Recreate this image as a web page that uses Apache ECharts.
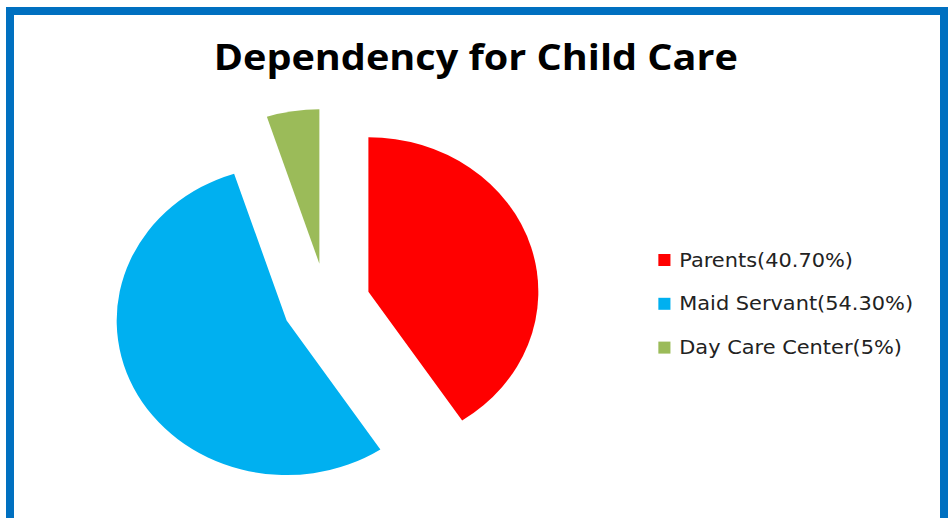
<!DOCTYPE html>
<html>
<head>
<meta charset="utf-8">
<script src="https://cdn.jsdelivr.net/npm/echarts@6/dist/echarts.min.js"></script>
<style>
  html, body { margin: 0; padding: 0; background: #ffffff; width: 951px; height: 518px; overflow: hidden; }
  #frame { position: absolute; left: 6px; top: 7px; width: 926px; height: 600px; border: 8px solid #0070C0; box-sizing: content-box; }
  #chart { position: absolute; left: 0; top: 0; width: 865px; height: 518px; transform: scaleX(1.1); transform-origin: 0 0; }
</style>
</head>
<body>
<div id="frame"></div>
<div id="chart"></div>
<script>
const titleText = 'Dependency for Child Care';
const categories = ['Parents(40.70%)', 'Maid Servant(54.30%)', 'Day Care Center(5%)'];
const values = [40.7, 54.3, 5];
const colors = ['#FF0000', '#00B0F0', '#9BBB59'];

const chart = echarts.init(document.getElementById('chart'), null, { renderer: 'svg' });
chart.setOption({
  animation: false,
  backgroundColor: 'transparent',
  title: {
    text: titleText,
    left: 'center',
    top: 38,
    padding: 0,
    textStyle: { fontFamily: 'Open Sans', fontWeight: 'bold', fontSize: 36, color: '#000000' }
  },
  legend: {
    orient: 'vertical',
    left: 598.5,
    top: 250.5,
    padding: 0,
    itemWidth: 11,
    itemHeight: 12,
    itemGap: 24.8,
    icon: 'rect',
    selectedMode: false,
    data: categories,
    textStyle: { fontFamily: 'DejaVu Sans', fontSize: 19, color: '#222222', padding: [0, 0, 0, 3] }
  },
  series: [{
    type: 'pie',
    center: [296.6, 303.2],
    radius: 154.5,
    startAngle: 90,
    clockwise: true,
    selectedMode: 'multiple',
    selectedOffset: 40,
    label: { show: false },
    labelLine: { show: false },
    emphasis: { disabled: true },
    select: { itemStyle: { borderWidth: 0 } },
    itemStyle: { borderWidth: 0 },
    data: categories.map((name, i) => ({
      name: name,
      value: values[i],
      selected: true,
      itemStyle: { color: colors[i] }
    }))
  }]
});
</script>
</body>
</html>
